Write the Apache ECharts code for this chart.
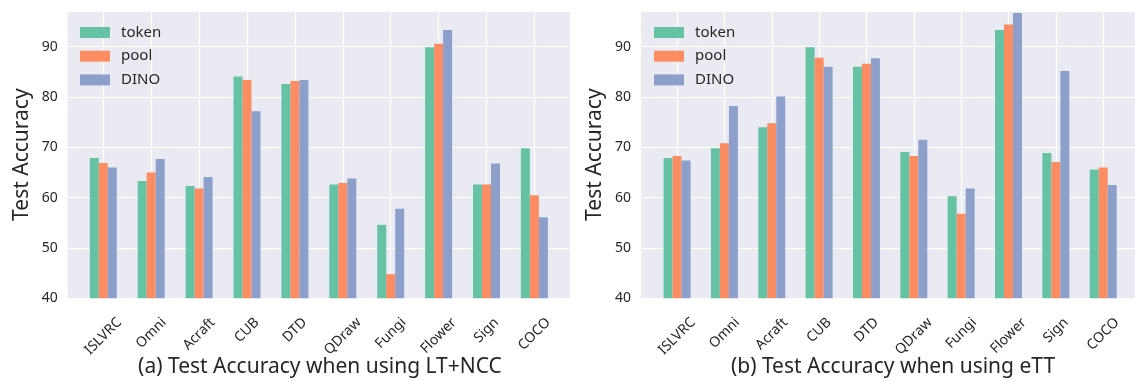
<!DOCTYPE html>
<html><head><meta charset="utf-8">
<script src="https://cdn.jsdelivr.net/npm/echarts@6/dist/echarts.min.js"></script>
<style>html,body{margin:0;padding:0;background:#fff}#c{width:1135px;height:381px}</style>
</head><body><div id="c"></div>
<script>
const categories = ['ISLVRC','Omni','Acraft','CUB','DTD','QDraw','Fungi','Flower','Sign','COCO'];
const seriesNames = ['token','pool','DINO'];
const seriesColors = ['#66c2a5','#fc8d62','#8da0cb'];
const ltToken = [67.9, 63.3, 62.3, 84.1, 82.6, 62.6, 54.6, 89.9, 62.6, 69.8];
const ltPool  = [66.9, 65.0, 61.8, 83.4, 83.2, 62.9, 44.8, 90.6, 62.6, 60.5];
const ltDino  = [66.0, 67.7, 64.1, 77.2, 83.4, 63.8, 57.8, 93.3, 66.8, 56.1];
const ettToken = [67.9, 69.8, 74.0, 89.9, 86.0, 69.1, 60.3, 93.3, 68.9, 65.6];
const ettPool  = [68.3, 70.8, 74.8, 87.8, 86.6, 68.3, 56.8, 94.4, 67.1, 66.0];
const ettDino  = [67.4, 78.2, 80.1, 86.0, 87.7, 71.5, 61.8, 96.7, 85.2, 62.5];
const yTicks = [40, 50, 60, 70, 80, 90];
const titles = ['(a) Test Accuracy when using LT+NCC', '(b) Test Accuracy when using eTT'];
const yName = 'Test Accuracy';

const FONT = '"Noto Sans", sans-serif';
const TXT = '#262626';
const LABEL_SIZE = 14;
const Y_MIN = 40, Y_MAX = 97.1;

// Centre each rotated tick label horizontally on its tick, with a common top edge:
// shift along the text via right padding, across it via an empty first line.
const ctx = document.createElement('canvas').getContext('2d');
ctx.font = LABEL_SIZE + 'px "Noto Sans"';
const widths = categories.map(c => ctx.measureText(c).width);
const T = Math.max(...widths) / 2;
const K = 0.7071 * T - 0.3536 * LABEL_SIZE;
const LABEL_MARGIN = Math.max(0, 17 - K);
function catData() {
  return categories.map((c, i) => {
    const w = widths[i];
    const padR = (T - w / 2) / 2;
    const lh = w / 2 + T;
    return { value: c, textStyle: { padding: [0, padR, 0, 0], lineHeight: lh } };
  });
}

const panels = [
  { bg: { left: 67.7, width: 502.3 }, bars: { left: 79.35, width: 479 }, data: [ltToken, ltPool, ltDino], legendLeft: 75, titleX: 315 },
  { bg: { left: 641, width: 502 }, bars: { left: 653.4, width: 477.8 }, data: [ettToken, ettPool, ettDino], legendLeft: 649, titleX: 888 }
];
const TOP = 11, HEIGHT = 287.3;

const grid = [], xAxis = [], yAxis = [], series = [], legend = [], title = [];
panels.forEach((p, pi) => {
  const gBg = grid.length;
  grid.push({ left: p.bg.left, width: p.bg.width, top: TOP, height: HEIGHT, show: true, backgroundColor: '#eaeaf2', borderWidth: 0 });
  const gBar = grid.length;
  grid.push({ left: p.bars.left, width: p.bars.width, top: TOP, height: HEIGHT, show: false });
  xAxis.push({ type: 'value', gridIndex: gBg, min: 0, max: 1, show: false });
  yAxis.push({
    type: 'value', gridIndex: gBg, min: Y_MIN, max: Y_MAX, interval: 10,
    name: yName, nameLocation: 'middle', nameGap: 35, nameRotate: 90,
    nameTextStyle: { fontFamily: FONT, fontSize: 21, color: TXT },
    axisLine: { show: false }, axisTick: { show: false },
    axisLabel: { margin: 10, fontFamily: FONT, fontSize: 14, color: TXT,
      formatter: v => (yTicks.indexOf(Math.round(v * 10) / 10) >= 0 ? String(v) : '') },
    splitLine: { show: true, lineStyle: { color: '#ffffff', width: 1.2 } }
  });
  const xi = xAxis.length;
  xAxis.push({
    type: 'category', gridIndex: gBar, data: catData(), boundaryGap: true,
    axisLine: { show: false }, axisTick: { show: false },
    splitLine: { show: true, alignWithLabel: true, lineStyle: { color: '#ffffff', width: 1.2 } },
    axisLabel: { interval: 0, rotate: 45, margin: LABEL_MARGIN,
      fontFamily: FONT, fontSize: LABEL_SIZE, color: TXT, formatter: v => '\n' + v }
  });
  const yi = yAxis.length;
  yAxis.push({ type: 'value', gridIndex: gBar, min: Y_MIN, max: Y_MAX, show: false, splitLine: { show: false } });
  p.data.forEach((arr, si) => {
    series.push({
      type: 'bar', name: seriesNames[si], xAxisIndex: xi, yAxisIndex: yi,
      data: arr, barWidth: 9, barGap: '0%', itemStyle: { color: seriesColors[si] },
      emphasis: { disabled: true }, animation: false
    });
  });
  legend.push({
    data: seriesNames, orient: 'vertical', left: p.legendLeft, top: 20,
    itemWidth: 30, itemHeight: 11, itemGap: 8.7, icon: 'rect',
    textStyle: { fontFamily: FONT, fontSize: 15, color: TXT, padding: [0, 0, 0, 6] },
    selectedMode: false
  });
  title.push({ text: titles[pi], left: p.titleX, top: 352, textAlign: 'center',
    textStyle: { fontFamily: FONT, fontSize: 21, fontWeight: 'normal', color: TXT } });
});

const chart = echarts.init(document.getElementById('c'), null, { renderer: 'canvas' });
chart.setOption({ animation: false, title, legend, grid, xAxis, yAxis, series });
</script>
</body></html>
